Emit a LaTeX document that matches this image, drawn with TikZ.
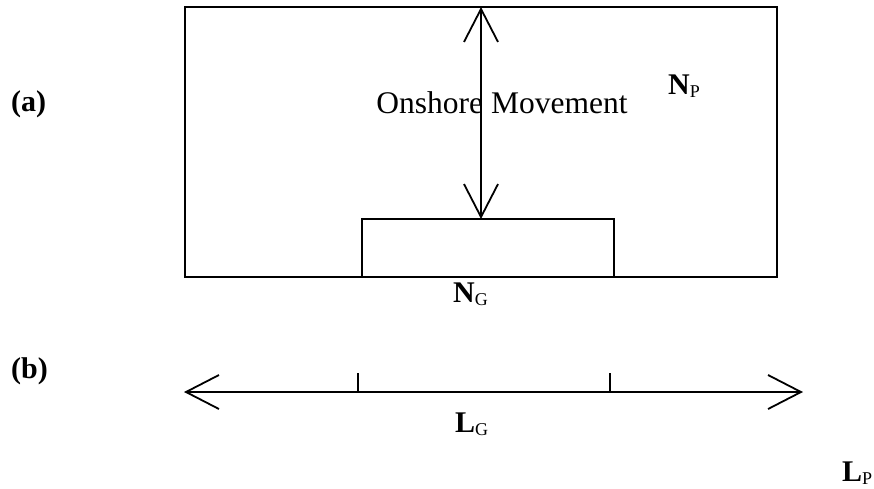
\documentclass[tikz,border=0pt]{standalone}
\usepackage{fontspec}
\setmainfont{Liberation Serif}
\usetikzlibrary{arrows.meta}
\newcommand\subtx[1]{\raisebox{-3pt}{\fontsize{18}{18}\selectfont\mdseries #1}}
\begin{document}
\begin{tikzpicture}[x=1pt,y=-1pt,
  box/.style={draw, line width=1.6pt, inner sep=0pt, outer sep=0pt},
  barb/.tip={Straight Barb[length=33pt,width=34pt,line width=1.8pt]},
  lbl/.style={font=\fontsize{30}{32}\selectfont\bfseries, inner sep=0pt},
  txt/.style={font=\fontsize{31.5}{33}\selectfont, inner sep=0pt},
  shaft/.style={line width=1.3pt},
]
\useasboundingbox (0,0) rectangle (874,488);
% (a)
\node[box, minimum width=592pt, minimum height=270pt, anchor=north west] (outer) at (185,7) {};
\node[box, minimum width=252pt, minimum height=58pt, anchor=south west] (inner) at (362,277) {};
\coordinate (up) at (481,7);
\coordinate (dn) at (481,219);
\draw[shaft, barb-barb] (up) -- (dn);
\node[txt, anchor=base] (onshore) at (502,113) {Onshore Movement};
\node[lbl, anchor=base west] (np) at (668,94) {N\subtx{P}};
\node[lbl, anchor=base west] (ng) at (453,302) {N\subtx{G}};
\node[lbl, anchor=base west] (la) at (11,111) {(a)};
% (b)
\node[lbl, anchor=base west] (lb) at (11,378) {(b)};
\coordinate (lL) at (184,392);
\coordinate (lR) at (803,392);
\draw[shaft, barb-barb] (lL) -- (lR);
\coordinate (t1) at (358,373);
\coordinate (t2) at (610,373);
\draw[line width=1.2pt] (t1) -- (t1 |- lL);
\draw[line width=1.2pt] (t2) -- (t2 |- lL);
\node[lbl, anchor=base west] (lg) at (455,432) {L\subtx{G}};
\node[lbl, anchor=base west] (lp) at (842,481) {L\subtx{P}};
\end{tikzpicture}
\end{document}
